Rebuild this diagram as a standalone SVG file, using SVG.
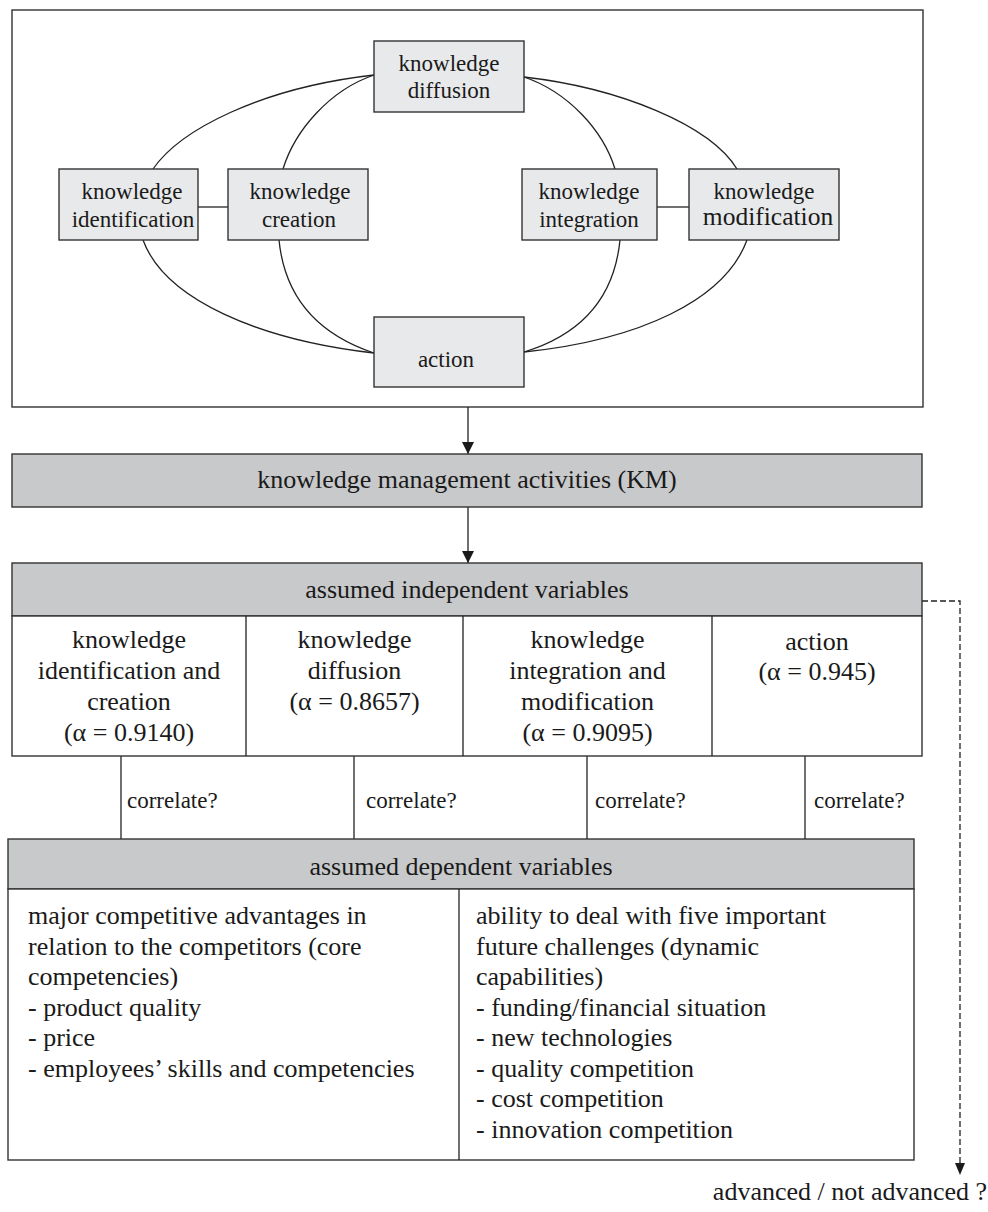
<svg xmlns="http://www.w3.org/2000/svg" width="988" height="1212" viewBox="0 0 988 1212">
<style>
text{font-family:"Liberation Serif","Times New Roman",serif;fill:#1a1a1a}
.t23{font-size:23px;text-anchor:middle}
.t26{font-size:26px;text-anchor:middle}
.cor{font-size:23px}
.dep{font-size:26px}
.lb{fill:#e8e9ea;stroke:#333;stroke-width:1.4}
.hd{fill:#c8c9ca;stroke:#333;stroke-width:1.4}
.wb{fill:#fff;stroke:#333;stroke-width:1.4}
.ln{fill:none;stroke:#222;stroke-width:1.3}
.dash{fill:none;stroke:#222;stroke-width:1.3;stroke-dasharray:6 3}
</style>
<defs>
<marker id="ah" viewBox="0 0 12 12" refX="12" refY="6" markerWidth="12" markerHeight="12" markerUnits="userSpaceOnUse" orient="auto">
<path d="M0,0 L12,6 L0,12 Z" fill="#1a1a1a"/>
</marker>
<marker id="ah2" viewBox="0 0 12 10" refX="12" refY="5" markerWidth="12" markerHeight="10" markerUnits="userSpaceOnUse" orient="auto">
<path d="M0,0 L12,5 L0,10 Z" fill="#1a1a1a"/>
</marker>
</defs>
<rect width="988" height="1212" fill="#fff"/>

<g id="frame"><rect x="12" y="10" width="911" height="397" class="wb" stroke-width="1.6"/></g>

<g id="connectors">
<path class="ln" d="M153,169 C180,130 260,88 374,75"/>
<path class="ln" d="M283,169 C295,130 330,90 374,75"/>
<path class="ln" d="M524,77 C568,92 603,130 615,169"/>
<path class="ln" d="M524,77 C620,88 710,125 737,169"/>
<path class="ln" d="M143,240 C165,300 260,340 374,353"/>
<path class="ln" d="M279,240 C285,300 320,335 374,353"/>
<path class="ln" d="M620,240 C614,300 580,335 524,352"/>
<path class="ln" d="M747,240 C725,300 640,340 524,352"/>
<path class="ln" d="M198,207 L228,207"/>
<path class="ln" d="M657,207 L689,207"/>
<path class="ln" d="M468,407 L468,454" marker-end="url(#ah)"/>
<path class="ln" d="M468,507 L468,563" marker-end="url(#ah)"/>
<path class="ln" d="M121,756 L121,839"/>
<path class="ln" d="M354,756 L354,839"/>
<path class="ln" d="M587,756 L587,839"/>
<path class="ln" d="M805,756 L805,839"/>
<path class="dash" d="M922,601 L960,601 L960,1175" marker-end="url(#ah2)"/>
</g>

<g id="diffusion"><rect x="374" y="41" width="150" height="71" class="lb"/>
<text class="t23" x="449" y="71">knowledge</text><text class="t23" x="449" y="98">diffusion</text></g>

<g id="identification"><rect x="59" y="169" width="139" height="71" class="lb"/>
<text class="t23" x="132" y="199">knowledge</text><text class="t23" x="133" y="227">identification</text></g>

<g id="creation"><rect x="228" y="169" width="140" height="71" class="lb"/>
<text class="t23" x="300" y="199">knowledge</text><text class="t23" x="299" y="227">creation</text></g>

<g id="integration"><rect x="522" y="169" width="135" height="71" class="lb"/>
<text class="t23" x="589" y="199">knowledge</text><text class="t23" x="589" y="227">integration</text></g>

<g id="modification"><rect x="689" y="169" width="150" height="71" class="lb" stroke-width="2"/>
<text class="t23" x="764" y="199">knowledge</text><text class="t26" x="768" y="225" style="font-size:25.5px">modification</text></g>

<g id="action"><rect x="374" y="317" width="150" height="70" class="lb"/>
<text class="t23" x="446" y="367">action</text></g>

<g id="km"><rect x="12" y="454" width="910" height="53" class="hd"/>
<text class="t26" x="467" y="488">knowledge management activities (KM)</text></g>

<g id="independent">
<rect x="12" y="563" width="910" height="53" class="hd"/>
<text class="t26" x="467" y="598">assumed independent variables</text>
<rect x="12" y="616" width="910" height="140" class="wb"/>
<path class="ln" d="M246,616 L246,756 M463,616 L463,756 M712,616 L712,756"/>
<text class="t26" x="129" y="648">knowledge</text>
<text class="t26" x="129" y="679">identification and</text>
<text class="t26" x="129" y="710">creation</text>
<text class="t26" x="129" y="741">(α = 0.9140)</text>
<text class="t26" x="354.5" y="648">knowledge</text>
<text class="t26" x="354.5" y="679">diffusion</text>
<text class="t26" x="354.5" y="710">(α = 0.8657)</text>
<text class="t26" x="587.5" y="648">knowledge</text>
<text class="t26" x="587.5" y="679">integration and</text>
<text class="t26" x="587.5" y="710">modification</text>
<text class="t26" x="587.5" y="741">(α = 0.9095)</text>
<text class="t26" x="817" y="650">action</text>
<text class="t26" x="817" y="680">(α = 0.945)</text>
</g>

<g id="correlations">
<text class="cor" x="127" y="808">correlate?</text>
<text class="cor" x="366" y="808">correlate?</text>
<text class="cor" x="595" y="808">correlate?</text>
<text class="cor" x="814" y="808">correlate?</text>
</g>

<g id="dependent">
<rect x="8" y="839" width="906" height="50" class="hd"/>
<text class="t26" x="461" y="875">assumed dependent variables</text>
<rect x="8" y="889" width="906" height="271" class="wb"/>
<path class="ln" d="M459,889 L459,1160"/>
<text class="dep" x="28" y="924">major competitive advantages in</text>
<text class="dep" x="28" y="954.5">relation to the competitors (core</text>
<text class="dep" x="28" y="985">competencies)</text>
<text class="dep" x="28" y="1015.5">- product quality</text>
<text class="dep" x="28" y="1046">- price</text>
<text class="dep" x="28" y="1076.5">- employees’ skills and competencies</text>
<text class="dep" x="476" y="924">ability to deal with five important</text>
<text class="dep" x="476" y="954.5">future challenges (dynamic</text>
<text class="dep" x="476" y="985">capabilities)</text>
<text class="dep" x="476" y="1015.5">- funding/financial situation</text>
<text class="dep" x="476" y="1046">- new technologies</text>
<text class="dep" x="476" y="1076.5">- quality competition</text>
<text class="dep" x="476" y="1107">- cost competition</text>
<text class="dep" x="476" y="1137.5">- innovation competition</text>
</g>

<g id="outcome"><text class="t26" x="850" y="1200">advanced / not advanced ?</text></g>
</svg>
